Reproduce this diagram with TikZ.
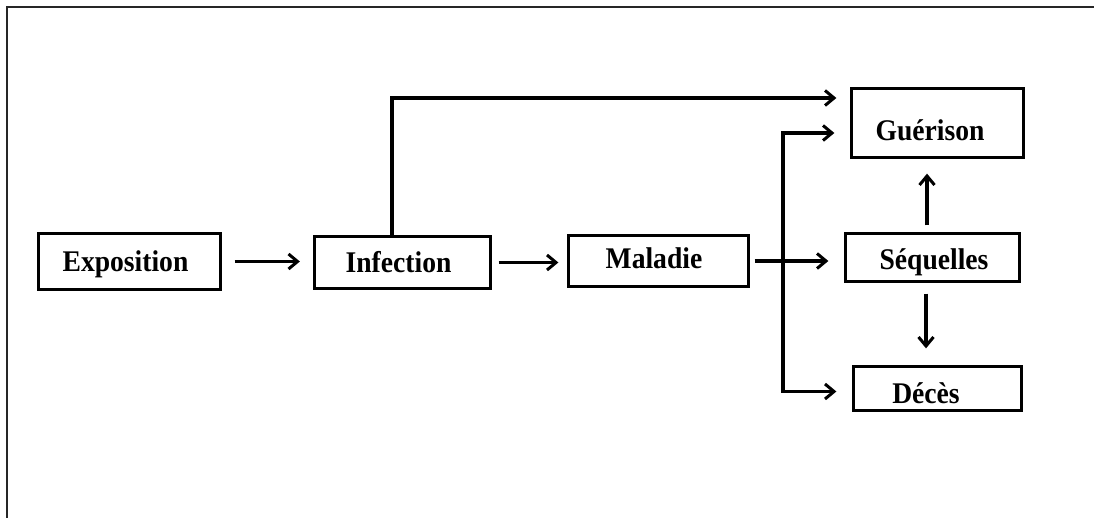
\documentclass[tikz,border=0pt]{standalone}
\usepackage{fontspec}
\setmainfont{Liberation Serif}[FakeStretch=0.92]
\usetikzlibrary{arrows.meta,calc}

\begin{document}
\begin{tikzpicture}[x=1pt,y=-1pt,
  box/.style={draw, line width=3.3pt, inner sep=0pt,
    font=\fontsize{30}{30}\selectfont\bfseries, text depth=0pt},
  arr/.style={line width=3.2pt, -{Straight Barb[length=9pt,width=15pt,line width=3pt]}},
  frame/.style={draw=black!85, line width=1.5pt}]
\path[use as bounding box] (0,0) rectangle (1094,518);
\draw[frame] (7,518) -- (7,7) -- (1094,7);

% stages (a leading kern nudges a label off the box centre)
\node[box, minimum width=182pt, minimum height=56pt, text height=21pt] (exp) at (129.5,261.5) {\kern-8pt Exposition};
\node[box, minimum width=176pt, minimum height=52pt, text height=21pt] (inf) at (402.5,262.5) {\kern-8pt Infection};
\node[box, minimum width=180pt, minimum height=51pt, text height=16pt] (mal) at (658.5,261) {\kern-9pt Maladie};
\node[box, minimum width=172pt, minimum height=69pt, text height=35pt] (gue) at (937.5,123) {\kern-15pt Guérison};
\node[box, minimum width=174pt, minimum height=48pt, text height=25pt] (seq) at (932.5,257.5) {\kern3pt Séquelles};
\node[box, minimum width=168pt, minimum height=44pt, text height=29pt] (dec) at (937.5,388.5) {\kern-23pt Décès};

% main chain
\draw[arr, shorten <=12.5pt, shorten >=13pt] (exp.east) -- (exp.east -| inf.west);
\draw[arr, shorten <=6.5pt, shorten >=8.5pt] (inf.east) -- (inf.east -| mal.west);
\draw[arr, shorten >=13.5pt] ([xshift=-10.5pt]inf.north) |- ([yshift=25pt]gue.west);
\draw[arr, shorten <=4.5pt, shorten >=15.5pt] (mal.east) -- (mal.east -| seq.west);

% outcomes of the disease
\coordinate (fork) at (783,262);
\draw[arr, shorten >=15.5pt] (fork) |- ([yshift=-10pt]gue.west);
\draw[arr, shorten >=15.5pt] (fork) |- ([yshift=-3pt]dec.west);

% outcomes of the sequelae
\draw[arr, shorten <=6.5pt, shorten >=14.5pt] ([xshift=-5.5pt]seq.north) -- ([xshift=-5.5pt]seq.north |- gue.south);
\draw[arr, shorten <=10.5pt, shorten >=16.5pt] ([xshift=-6.5pt]seq.south) -- ([xshift=-6.5pt]seq.south |- dec.north);
\end{tikzpicture}
\end{document}
